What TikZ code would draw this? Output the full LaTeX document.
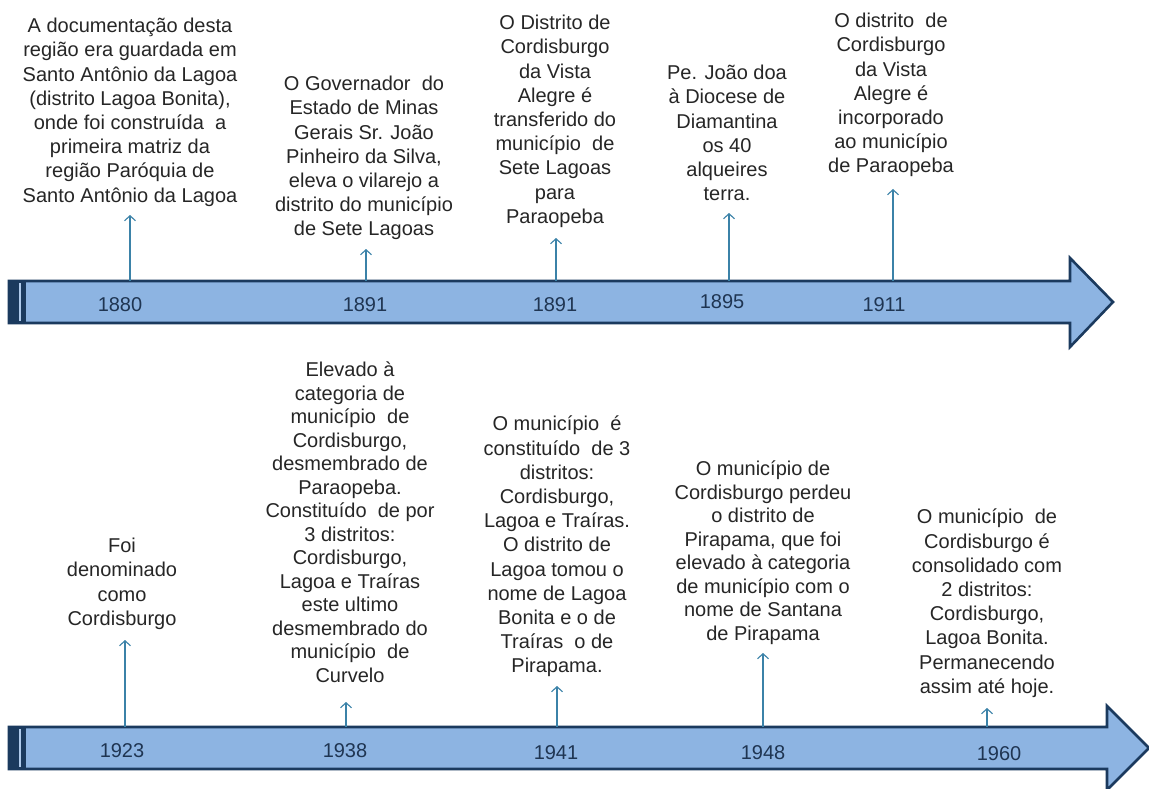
\documentclass[tikz,border=0pt]{standalone}
\usepackage{fontspec}
\setmainfont{Liberation Sans}
\usetikzlibrary{arrows.meta}
\definecolor{barfill}{HTML}{8DB4E2}
\definecolor{barline}{HTML}{1B3A5E}
\definecolor{conncol}{HTML}{3B82A8}
\definecolor{txtcol}{HTML}{262626}
\definecolor{yearcol}{HTML}{1F3552}
\tikzset{
  x=1pt, y=-1pt,
  bar/.style={fill=barfill, draw=barline, line width=2.6pt, line join=miter},
  stripe/.style={fill=barline, draw=barline, line width=1pt},
  conn/.style={draw=conncol, line width=1.1pt, -{Straight Barb[length=5pt,width=11pt,line width=1.1pt]}},
  evt/.style={anchor=north, align=center, inner sep=0pt, text=txtcol, font=\fontsize{20}{24.2}\selectfont},
  evttight/.style={evt, font=\fontsize{20}{23.5}\selectfont},
  yr/.style={inner sep=0pt, text=yearcol, font=\fontsize{20}{24}\selectfont},
}
\begin{document}
\begin{tikzpicture}
\useasboundingbox (0,0) rectangle (1149,789);
\fill[white] (0,0) rectangle (1149,789);

% ---- top timeline bar ----
\draw[bar] (9,281) -- (1070,281) -- (1070,258) -- (1113,302) -- (1070,347) -- (1070,323) -- (9,323) -- cycle;
\draw[stripe] (9,281) rectangle (25,323);
\draw[barfill!70!white, line width=2pt] (19.5,283) -- (19.5,321);

% ---- bottom timeline bar ----
\draw[bar] (9,727) -- (1107,727) -- (1107,706) -- (1149,748) -- (1107,790) -- (1107,769) -- (9,769) -- cycle;
\draw[stripe] (9,727) rectangle (25,769);
\draw[barfill!70!white, line width=2pt] (19.5,729) -- (19.5,767);

% ---- years ----
\node[yr] (y1) at (120,305) {1880};
\node[yr] (y2) at (365,305) {1891};
\node[yr] (y3) at (555,305) {1891};
\node[yr] (y4) at (722,302) {1895};
\node[yr] (y5) at (884,305) {1911};
\node[yr] (y6) at (122,751) {1923};
\node[yr] (y7) at (345,751) {1938};
\node[yr] (y8) at (556,753) {1941};
\node[yr] (y9) at (763,753) {1948};
\node[yr] (y10) at (999,754) {1960};

% ---- connector anchors on the bars and arrow tips ----
\coordinate (p1) at (130,281);  \coordinate (h1) at (130,215);
\coordinate (p2) at (366,281);  \coordinate (h2) at (366,249);
\coordinate (p3) at (556,281);  \coordinate (h3) at (556,238);
\coordinate (p4) at (729,281);  \coordinate (h4) at (729,213);
\coordinate (p5) at (893,281);  \coordinate (h5) at (893,189);
\coordinate (p6) at (125,727);  \coordinate (h6) at (125,640);
\coordinate (p7) at (346,727);  \coordinate (h7) at (346,702);
\coordinate (p8) at (557,727);  \coordinate (h8) at (557,686);
\coordinate (p9) at (763,727);  \coordinate (h9) at (763,653);
\coordinate (p10) at (987,727); \coordinate (h10) at (987,708);

% ---- event texts ----
\node[evt] (t1) at (130,18) {A documentação desta\\região era guardada em\\Santo Antônio da Lagoa\\(distrito Lagoa Bonita),\\onde foi construída\ \ a\\primeira matriz da\\região Paróquia de\\Santo Antônio da Lagoa};
\node[evt] (t2) at (364,76) {O Governador\ \ do\\Estado de Minas\\Gerais Sr. João\\Pinheiro da Silva,\\eleva o vilarejo a\\distrito do município\\de Sete Lagoas};
\node[evt] (t3) at (555,15) {O Distrito de\\Cordisburgo\\da Vista\\Alegre é\\transferido do\\município\ \ de\\Sete Lagoas\\para\\Paraopeba};
\node[evt] (t4) at (727,65) {Pe. João doa\\à Diocese de\\Diamantina\\os 40\\alqueires\\terra.};
\node[evt] (t5) at (891,13) {O distrito\ \ de\\Cordisburgo\\da Vista\\Alegre é\\incorporado\\ao município\\de Paraopeba};
\node[evt] (t6) at (122,538) {Foi\\denominado\\como\\Cordisburgo};
\node[evttight] (t7) at (350,362) {Elevado à\\categoria de\\município\ \ de\\Cordisburgo,\\desmembrado de\\Paraopeba.\\Constituído\ \ de por\\3 distritos:\\Cordisburgo,\\Lagoa e Traíras\\este ultimo\\desmembrado do\\município\ \ de\\Curvelo};
\node[evt] (t8) at (557,416) {O município\ \ é\\constituído\ \ de 3\\distritos:\\Cordisburgo,\\Lagoa e Traíras.\\O distrito de\\Lagoa tomou o\\nome de Lagoa\\Bonita e o de\\Traíras\ \ o de\\Pirapama.};
\node[evttight] (t9) at (763,461) {O município de\\Cordisburgo perdeu\\o distrito de\\Pirapama, que foi\\elevado à categoria\\de município com o\\nome de Santana\\de Pirapama};
\node[evt] (t10) at (987,509) {O município\ \ de\\Cordisburgo é\\consolidado com\\2 distritos:\\Cordisburgo,\\Lagoa Bonita.\\Permanecendo\\assim até hoje.};

% ---- connectors ----
\foreach \i in {1,...,10} { \draw[conn] (p\i) -- (h\i); }
\end{tikzpicture}
\end{document}
